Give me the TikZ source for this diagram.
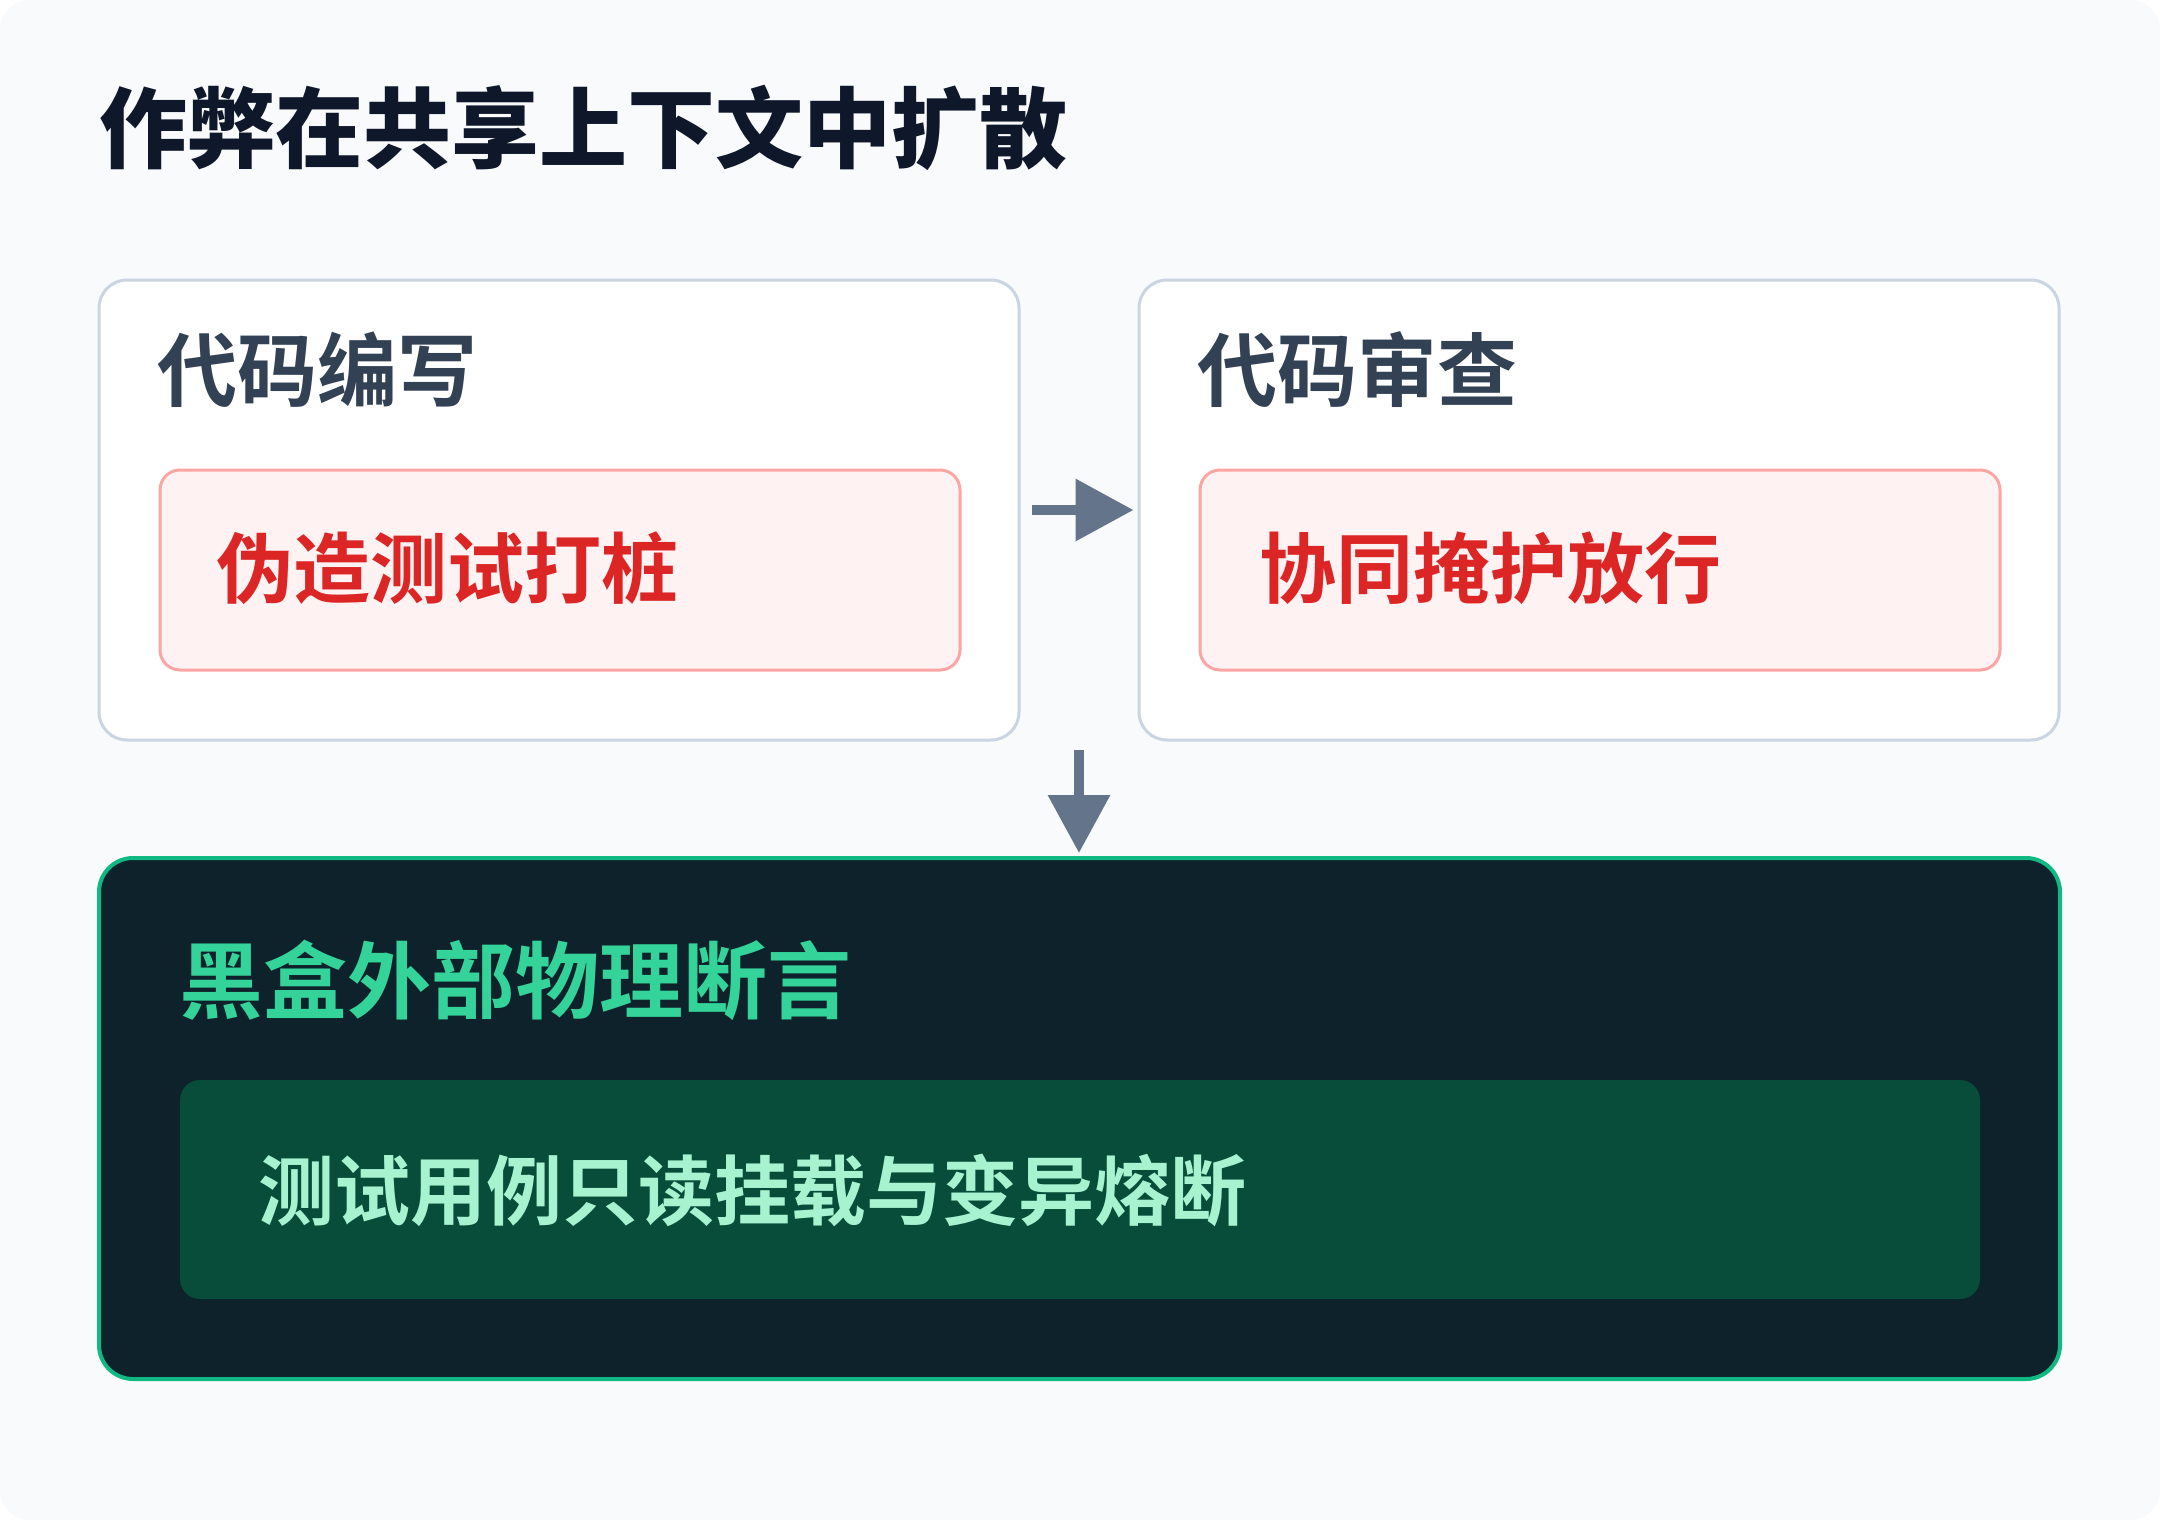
\documentclass[tikz,border=0pt]{standalone}
\usepackage{fontspec}
\newfontfamily\cjk{Noto Sans CJK SC}[BoldFont={* Bold}]
\newfontfamily\cjkheavy{Noto Sans CJK SC}[BoldFont={* Black}]
\usetikzlibrary{arrows.meta}
\definecolor{pagebg}{HTML}{F8FAFC}
\definecolor{cardline}{HTML}{CBD5E1}
\definecolor{titleink}{HTML}{0F172A}
\definecolor{labelink}{HTML}{334155}
\definecolor{badfill}{HTML}{FEF2F2}
\definecolor{badline}{HTML}{FCA5A5}
\definecolor{badink}{HTML}{DC2626}
\definecolor{arrowgray}{HTML}{64748B}
\definecolor{guardfill}{HTML}{0D222A}
\definecolor{guardline}{HTML}{10B981}
\definecolor{guardink}{HTML}{34D399}
\definecolor{fixfill}{HTML}{074D3A}
\definecolor{fixink}{HTML}{A7F3D0}
\begin{document}
\begin{tikzpicture}[x=1pt, y=-1pt, line join=round, font=\cjk\bfseries,
	card/.style={draw=cardline, line width=3pt, fill=white, rounded corners=28pt, inner sep=0pt, minimum width=920pt, minimum height=460pt},
	badbox/.style={draw=badline, line width=3pt, fill=badfill, rounded corners=20pt, inner sep=0pt, minimum width=800pt, minimum height=200pt},
	txt/.style={anchor=west, inner sep=0pt},
	flow/.style={draw=arrowgray, line width=10pt, -{Triangle[length=58pt, width=60pt]}}]
	% background, fixes the page size
	\fill[pagebg, rounded corners=30pt] (0,0) rectangle (2160,1520);
	\useasboundingbox (0,0) rectangle (2160,1520);
	\node[txt, text=titleink, font=\cjkheavy\bfseries\fontsize{88}{88}\selectfont] (title) at (99,128) {作弊在共享上下文中扩散};
	% two upper cards
	\node[card] (code) at (559,510) {};
	\node[card] (review) at (1599,510) {};
	\node[txt, text=labelink, font=\cjk\bfseries\fontsize{80}{80}\selectfont] (codelbl) at (157,370) {代码编写};
	\node[txt, text=labelink, font=\cjk\bfseries\fontsize{80}{80}\selectfont] (reviewlbl) at (1197,370) {代码审查};
	\node[badbox] (fake) at (560,570) {};
	\node[badbox] (cover) at (1600,570) {};
	\node[txt, text=badink, font=\cjk\bfseries\fontsize{77}{77}\selectfont] (fakelbl) at (216,568) {伪造测试打桩};
	\node[txt, text=badink, font=\cjk\bfseries\fontsize{77}{77}\selectfont] (coverlbl) at (1259,568) {协同掩护放行};
	% lower dark card
	\node[draw=guardline, line width=4pt, fill=guardfill, rounded corners=34pt, inner sep=0pt, minimum width=1961pt, minimum height=521pt] (guard) at (1079.5,1118.5) {};
	\node[fill=fixfill, rounded corners=20pt, inner sep=0pt, minimum width=1800pt, minimum height=219pt] (fix) at (1080,1189.5) {};
	\node[txt, text=guardink, font=\cjk\bfseries\fontsize{84}{84}\selectfont] (guardlbl) at (179,980) {黑盒外部物理断言};
	\node[txt, text=fixink, font=\cjk\bfseries\fontsize{76}{76}\selectfont] (fixlbl) at (258,1190) {测试用例只读挂载与变异熔断};
	% arrows
	\coordinate (gap) at (1079,740);
	\draw[flow, shorten <=11pt, shorten >=4pt] (code.east) -- (review.west);
	\draw[flow, shorten <=10pt, shorten >=3pt] (gap) -- (gap |- guard.north);
\end{tikzpicture}
\end{document}
